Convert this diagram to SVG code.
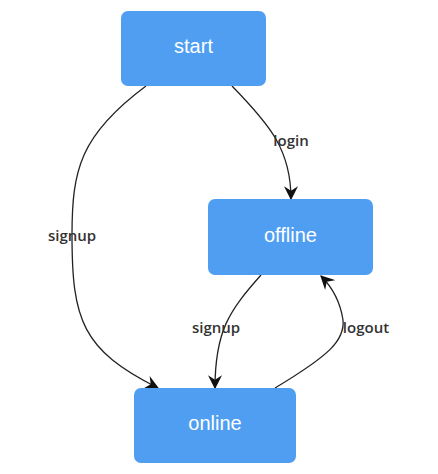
<svg xmlns="http://www.w3.org/2000/svg" width="438" height="474" viewBox="0 0 438 474">
<style>
.node rect{fill:#4f9ef2;}
.node text{fill:#fff;font-family:"Liberation Sans",Arial,sans-serif;font-size:20px;text-anchor:middle;dominant-baseline:central;}
.edge{fill:none;stroke:#222;stroke-width:1.3;marker-end:url(#arr);}
.lbl{fill:#333;font-family:"Open Sans","DejaVu Sans",sans-serif;font-size:15px;font-weight:600;text-anchor:middle;dominant-baseline:central;}
</style>
<defs>
<marker id="arr" viewBox="0 0 12 12" refX="11" refY="6" markerWidth="14" markerHeight="14" markerUnits="userSpaceOnUse" orient="auto">
<path d="M0,0 L12,6 L0,12 L4,6 z" fill="#111"/>
</marker>
</defs>
<rect width="438" height="474" fill="#fff"/>
<g id="connectors">
<path class="edge" d="M146,86 C80,135 72,170 72,235 C72,320 82,350 158,388"/>
<path class="edge" d="M232,86 C270,125 291,150 291,199"/>
<path class="edge" d="M261,275 C230,310 215,330 215,388"/>
<path class="edge" d="M275,388 C330,355 345,340 343,320 C340,300 330,285 321,276"/>
<text class="lbl" x="291" y="140">login</text>
<text class="lbl" x="72" y="235">signup</text>
<text class="lbl" x="216" y="327">signup</text>
<text class="lbl" x="366" y="327">logout</text>
</g>
<g id="start" class="node"><rect x="121" y="11" width="145" height="75" rx="7"/><text x="193.5" y="46">start</text></g>
<g id="offline" class="node"><rect x="208" y="199" width="165" height="76" rx="7"/><text x="290.5" y="235">offline</text></g>
<g id="online" class="node"><rect x="134" y="388" width="162" height="75" rx="7"/><text x="215" y="423">online</text></g>
</svg>
